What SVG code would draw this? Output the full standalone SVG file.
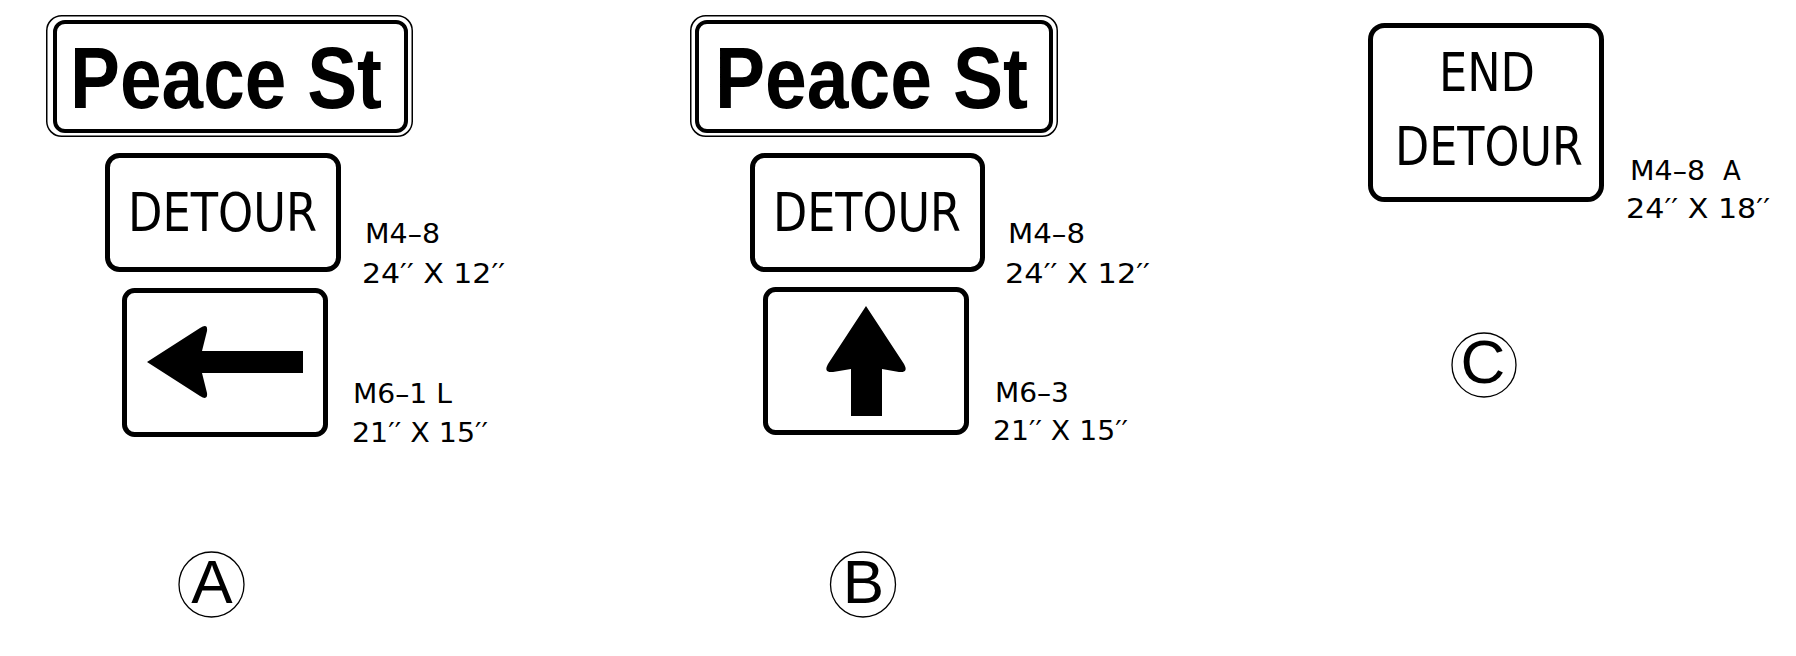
<svg xmlns="http://www.w3.org/2000/svg" width="1796" height="656" viewBox="0 0 1796 656">
<style>
.bg{fill:#fff}
.thin{fill:none;stroke:#000;stroke-width:1.5}
.thick{fill:#fff;stroke:#000;stroke-width:4}
.box{fill:#fff;stroke:#000;stroke-width:5}
.street{font-family:"Liberation Sans",Arial,sans-serif;font-weight:bold;font-size:88px;fill:#000}
.legend{font-family:"DejaVu Sans","Liberation Sans",sans-serif;font-size:53px;fill:#000}
.lbl{font-family:"DejaVu Sans","Liberation Sans",sans-serif;font-size:26px;fill:#000}
.circ{fill:none;stroke:#000;stroke-width:1.3}
.cl{font-family:"Liberation Sans",Arial,sans-serif;font-size:62px;fill:#000;text-anchor:middle}
</style>
<rect class="bg" x="0" y="0" width="1796" height="656"/>

<g id="signA-street">
<rect class="thin" x="46.75" y="15.75" width="365.5" height="120.5" rx="15"/>
<rect class="thick" x="55" y="22" width="351" height="109" rx="10"/>
<text class="street" x="70" y="108" textLength="312" lengthAdjust="spacingAndGlyphs">Peace St</text>
</g>

<g id="signA-detour">
<rect class="box" x="107.5" y="155.5" width="231" height="114" rx="12"/>
<text class="legend" x="128" y="231" textLength="189" lengthAdjust="spacingAndGlyphs">DETOUR</text>
</g>
<g id="labelA-detour">
<text class="lbl" x="365" y="243" textLength="75" lengthAdjust="spacingAndGlyphs">M4–8</text>
<text class="lbl" x="362" y="283" textLength="143" lengthAdjust="spacingAndGlyphs">24′′ X 12′′</text>
</g>

<g id="signA-arrow">
<rect class="box" x="124.5" y="290.5" width="201" height="144" rx="10"/>
<path d="M147,362 L200,328 Q208,323 207,331 L202,351 L303,351 L303,373 L202,373 L207,393 Q208,401 200,396 Z" fill="#000"/>
</g>
<g id="labelA-arrow">
<text class="lbl" x="353" y="403" textLength="99" lengthAdjust="spacingAndGlyphs">M6–1 L</text>
<text class="lbl" x="352" y="442" textLength="136" lengthAdjust="spacingAndGlyphs">21′′ X 15′′</text>
</g>

<g id="markA">
<circle class="circ" cx="211.5" cy="584.5" r="32.5"/>
<text class="cl" x="212" y="603">A</text>
</g>

<g id="signB-street">
<rect class="thin" x="690.75" y="15.75" width="366.5" height="120.5" rx="15"/>
<rect class="thick" x="697" y="22" width="354" height="109" rx="10"/>
<text class="street" x="715" y="108" textLength="313" lengthAdjust="spacingAndGlyphs">Peace St</text>
</g>

<g id="signB-detour">
<rect class="box" x="752.5" y="155.5" width="230" height="114" rx="12"/>
<text class="legend" x="773" y="231" textLength="188" lengthAdjust="spacingAndGlyphs">DETOUR</text>
</g>
<g id="labelB-detour">
<text class="lbl" x="1008" y="243" textLength="77" lengthAdjust="spacingAndGlyphs">M4–8</text>
<text class="lbl" x="1005" y="283" textLength="145" lengthAdjust="spacingAndGlyphs">24′′ X 12′′</text>
</g>

<g id="signB-arrow">
<rect class="box" x="765.5" y="289.5" width="201" height="143" rx="10"/>
<path d="M866,306 L904,364 Q909,373 899,372 L882,369 L882,416 L851,416 L851,369 L833,372 Q823,373 828,364 Z" fill="#000"/>
</g>
<g id="labelB-arrow">
<text class="lbl" x="995" y="402" textLength="74" lengthAdjust="spacingAndGlyphs">M6–3</text>
<text class="lbl" x="993" y="440" textLength="135" lengthAdjust="spacingAndGlyphs">21′′ X 15′′</text>
</g>

<g id="markB">
<circle class="circ" cx="863" cy="584.5" r="32.5"/>
<text class="cl" x="863.5" y="603">B</text>
</g>

<g id="signC">
<rect class="box" x="1370.5" y="25.5" width="231" height="174" rx="14"/>
<text class="legend" x="1439" y="91" textLength="96" lengthAdjust="spacingAndGlyphs">END</text>
<text class="legend" x="1395" y="165" textLength="188" lengthAdjust="spacingAndGlyphs">DETOUR</text>
</g>
<g id="labelC">
<text class="lbl" x="1630" y="180"><tspan textLength="75" lengthAdjust="spacingAndGlyphs">M4–8</tspan><tspan x="1723">A</tspan></text>
<text class="lbl" x="1626" y="218" textLength="144" lengthAdjust="spacingAndGlyphs">24′′ X 18′′</text>
</g>

<g id="markC">
<circle class="circ" cx="1484" cy="365" r="32"/>
<text class="cl" x="1483" y="383">C</text>
</g>

<g id="connectors"></g>
</svg>
